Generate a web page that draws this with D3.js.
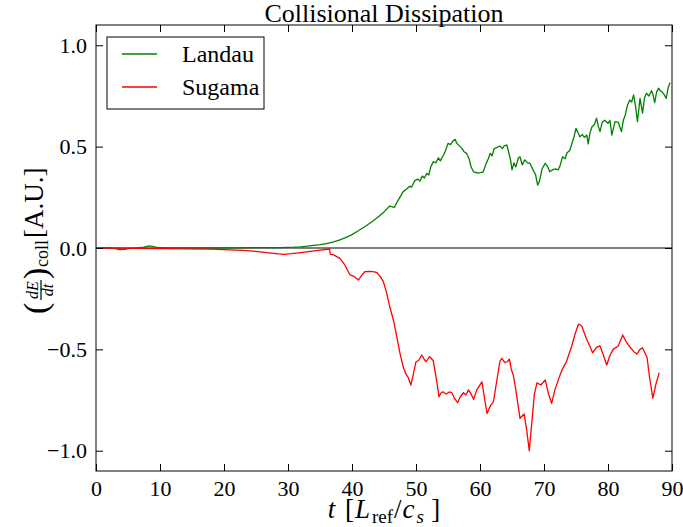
<!DOCTYPE html>
<html><head><meta charset="utf-8">
<script src="https://cdn.jsdelivr.net/npm/d3@7"></script>
<style>body{margin:0;background:#fff}svg{display:block}text{font-family:"Liberation Serif","DejaVu Serif",serif;fill:#000}</style>
</head><body><div id="chart"></div>
<script>
const title = "Collisional Dissipation";
const seriesNames = ["Landau", "Sugama"];
const seriesColors = ["#008000", "#ff0000"];
const xTicks = [0,10,20,30,40,50,60,70,80,90];
const yTicks = [-1.0,-0.5,0.0,0.5,1.0];
const yTickLabels = ["\u22121.0","\u22120.5","0.0","0.5","1.0"];

const landauT = [0,2,3,3.7,4.5,5.2,6.5,7.5,8.3,8.8,9.5,11,14,18,22,26,29,31,32,33,34,35,36,37,38,39,40,41,42,43,44,45,45.9,46.6,47.2,48,48.5,49,49.3,49.8,50.3,50.6,51,51.3,51.7,52,52.3,52.7,53.1,53.5,53.8,54.3,54.6,55.0,55.4,55.7,56.1,56.4,56.9,57.2,57.5,57.9,58.3,58.6,59.0,59.6,60.1,60.5,61.0,61.3,61.6,61.9,62.2,62.6,63.1,63.5,63.8,64.2,64.5,64.8,65.0,65.3,65.6,66.0,66.25,66.6,67.0,67.4,67.8,68.3,68.7,69.0,69.3,69.7,70.2,70.6,70.9,71.3,71.8,72.2,72.5,72.9,73.3,73.6,74.0,74.3,74.7,75.0,75.3,75.6,76.0,76.3,76.7,76.9,77.2,77.5,77.9,78.2,78.5,78.75,79.1,79.5,80.0,80.3,80.6,81.1,81.6,82.1,82.4,82.7,83.0,83.4,83.7,84.0,84.3,84.6,85.0,85.4,85.7,86.0,86.4,86.8,87.0,87.3,87.6,87.9,88.2,88.4,88.7,89.1,89.4,89.7];
const landauY = [0,0,-0.003,-0.008,-0.007,-0.002,0.001,0.004,0.01,0.008,0.003,0.001,0,0,0.001,0.002,0.002,0.004,0.006,0.009,0.013,0.017,0.022,0.029,0.039,0.051,0.066,0.085,0.105,0.127,0.15,0.178,0.207,0.2,0.235,0.278,0.29,0.305,0.3,0.332,0.34,0.33,0.355,0.345,0.368,0.36,0.4,0.426,0.42,0.445,0.43,0.459,0.48,0.516,0.51,0.525,0.536,0.515,0.5,0.49,0.475,0.467,0.44,0.4,0.376,0.37,0.372,0.376,0.42,0.44,0.467,0.455,0.49,0.495,0.503,0.49,0.505,0.508,0.47,0.43,0.385,0.42,0.4,0.445,0.45,0.41,0.435,0.42,0.418,0.385,0.36,0.31,0.33,0.39,0.418,0.4,0.376,0.385,0.39,0.385,0.405,0.45,0.44,0.47,0.48,0.508,0.55,0.59,0.57,0.549,0.56,0.545,0.557,0.513,0.57,0.598,0.61,0.64,0.6,0.574,0.62,0.63,0.615,0.63,0.557,0.623,0.62,0.574,0.63,0.656,0.7,0.73,0.72,0.755,0.7,0.623,0.738,0.665,0.74,0.763,0.75,0.776,0.76,0.717,0.77,0.788,0.775,0.771,0.76,0.738,0.79,0.815];

const sugamaT = [0,3,6,10,14,18,21,23,25,27,28.5,29.3,30.5,32,33.5,35,36.5,36.6,37.2,38.1,38.8,39.3,39.7,40.3,41.0,41.5,42.0,42.8,43.5,43.9,44.4,44.9,45.4,45.9,46.5,47.0,47.5,48.0,48.4,48.8,49.2,49.6,50.0,50.4,50.9,51.3,51.6,52.1,52.4,52.7,53.2,53.6,53.9,54.2,54.7,55.2,55.6,56.0,56.5,56.9,57.4,57.8,58.2,58.6,59.0,59.5,60.0,60.3,60.7,61.1,61.6,62.1,62.7,63.1,63.4,63.9,64.3,64.6,64.9,65.2,65.6,66.25,66.9,67.3,67.7,68.1,68.5,68.9,69.5,70.2,70.7,71.2,71.7,72.5,73.0,73.5,74.3,74.9,75.4,75.9,76.6,77.1,77.6,78.2,78.75,79.3,79.8,80.3,80.8,81.6,82.3,82.8,83.4,84.0,84.5,85.0,85.4,85.8,86.1,86.5,87.0,87.5,88.0];
const sugamaY = [0,-0.001,-0.002,-0.003,-0.004,-0.006,-0.009,-0.012,-0.017,-0.024,-0.029,-0.031,-0.028,-0.023,-0.017,-0.011,-0.005,-0.03,-0.035,-0.051,-0.08,-0.11,-0.133,-0.14,-0.158,-0.135,-0.117,-0.115,-0.118,-0.122,-0.14,-0.166,-0.22,-0.29,-0.36,-0.438,-0.52,-0.586,-0.62,-0.64,-0.676,-0.62,-0.561,-0.555,-0.528,-0.55,-0.561,-0.536,-0.545,-0.556,-0.65,-0.734,-0.715,-0.709,-0.72,-0.71,-0.714,-0.74,-0.763,-0.735,-0.714,-0.725,-0.7,-0.72,-0.746,-0.7,-0.675,-0.66,-0.74,-0.816,-0.78,-0.758,-0.64,-0.56,-0.544,-0.566,-0.56,-0.549,-0.6,-0.627,-0.7,-0.84,-0.819,-0.9,-1.0,-0.86,-0.72,-0.665,-0.676,-0.651,-0.72,-0.766,-0.7,-0.627,-0.59,-0.561,-0.487,-0.42,-0.375,-0.385,-0.445,-0.48,-0.517,-0.49,-0.483,-0.53,-0.577,-0.53,-0.5,-0.483,-0.429,-0.46,-0.487,-0.51,-0.523,-0.5,-0.492,-0.52,-0.539,-0.64,-0.741,-0.67,-0.615];

const W = 683, H = 527;
const m = {left: 96, right: 11, top: 25, bottom: 56};
const svg = d3.select("#chart").append("svg").attr("width", W).attr("height", H);
const x = d3.scaleLinear().domain([0, 90]).range([m.left, W - m.right]);
const y = d3.scaleLinear().domain([-1.1, 1.1]).range([H - m.bottom, m.top]);

// zero line
svg.append("line").attr("x1", x(0)).attr("x2", x(90)).attr("y1", y(0)).attr("y2", y(0))
  .attr("stroke", "#000").attr("stroke-width", 1.2);

const line = d3.line().x(d => x(d[0])).y(d => y(d[1]));
const data = [d3.zip(landauT, landauY), d3.zip(sugamaT, sugamaY)];
data.forEach((d, i) => {
  svg.append("path").datum(d).attr("d", line).attr("fill", "none")
    .attr("stroke", seriesColors[i]).attr("stroke-width", 1.3).attr("stroke-linejoin", "round");
});

// axes (inward ticks, all four sides)
const fs = "22px";
const gBottom = svg.append("g").attr("transform", `translate(0,${y(-1.1)})`)
  .call(d3.axisBottom(x).tickValues(xTicks).tickSizeInner(-7).tickSizeOuter(0).tickPadding(9).tickFormat(d3.format("d")));
const gTop = svg.append("g").attr("transform", `translate(0,${y(1.1)})`)
  .call(d3.axisTop(x).tickValues(xTicks).tickSizeInner(-7).tickSizeOuter(0).tickFormat(""));
const gLeft = svg.append("g").attr("transform", `translate(${x(0)},0)`)
  .call(d3.axisLeft(y).tickValues(yTicks).tickSizeInner(-7).tickSizeOuter(0).tickPadding(9).tickFormat((d, i) => yTickLabels[i]));
const gRight = svg.append("g").attr("transform", `translate(${x(90)},0)`)
  .call(d3.axisRight(y).tickValues(yTicks).tickSizeInner(-7).tickSizeOuter(0).tickFormat(""));
[gBottom, gTop, gLeft, gRight].forEach(g => {
  g.selectAll(".domain").remove();
  g.selectAll(".tick line").attr("stroke", "#000");
  g.selectAll("text").style("font-size", fs).style("font-family", '"Liberation Serif",serif');
});
svg.append("rect").attr("x", x(0)).attr("y", y(1.1)).attr("width", x(90) - x(0)).attr("height", y(-1.1) - y(1.1))
  .attr("fill", "none").attr("stroke", "#000").attr("stroke-width", 1);

// title
svg.append("text").attr("x", (x(0) + x(90)) / 2).attr("y", 22).attr("text-anchor", "middle")
  .style("font-size", "26px").text(title);

// x label (one text element with subscript tspans)
const xl = svg.append("text").attr("x", (x(0) + x(90)) / 2).attr("y", 518).attr("text-anchor", "middle").style("font-size", "27px");
xl.append("tspan").style("font-style", "italic").text("t");
xl.append("tspan").attr("dx", 3).text(" [");
xl.append("tspan").attr("dx", 1).style("font-style", "italic").text("L");
xl.append("tspan").attr("dx", 2).attr("dy", 5).style("font-size", "19px").text("ref");
xl.append("tspan").attr("dx", 1).attr("dy", -5).text("/");
xl.append("tspan").attr("dx", 1).style("font-style", "italic").text("c");
xl.append("tspan").attr("dx", 2).attr("dy", 5).style("font-size", "19px").style("font-style", "italic").text("s");
xl.append("tspan").attr("dx", 2).attr("dy", -5).text("\u2009]");

// y label (rotated group): local x runs upward on screen, local y to the right
const yl = svg.append("g").attr("transform", "translate(43,248) rotate(-90)");
yl.append("text").attr("x", -66).attr("y", 4).style("font-size", "34px").text("(");
yl.append("text").attr("x", -42).attr("y", -5).attr("text-anchor", "middle").style("font-size", "16px").style("font-style", "italic").text("dE");
yl.append("line").attr("x1", -52).attr("x2", -32).attr("y1", -2).attr("y2", -2).attr("stroke", "#000").attr("stroke-width", 1.2);
yl.append("text").attr("x", -42).attr("y", 10).attr("text-anchor", "middle").style("font-size", "16px").style("font-style", "italic").text("dt");
yl.append("text").attr("x", -31).attr("y", 4).style("font-size", "34px").text(")");
yl.append("text").attr("x", -19).attr("y", 5).style("font-size", "18px").text("coll");
yl.append("text").attr("x", 10).attr("y", 0).style("font-size", "27px").text("[A.U.]");

// legend
const lg = svg.append("g");
lg.append("rect").attr("x", 107).attr("y", 37).attr("width", 157).attr("height", 72)
  .attr("fill", "#fff").attr("stroke", "#000").attr("stroke-width", 1);
seriesNames.forEach((n, i) => {
  const yy = 54 + i * 33;
  lg.append("line").attr("x1", 122).attr("x2", 157).attr("y1", yy).attr("y2", yy)
    .attr("stroke", seriesColors[i]).attr("stroke-width", 1.3);
  lg.append("text").attr("x", 182).attr("y", yy + 8).style("font-size", "24px").text(n);
});
</script></body></html>
